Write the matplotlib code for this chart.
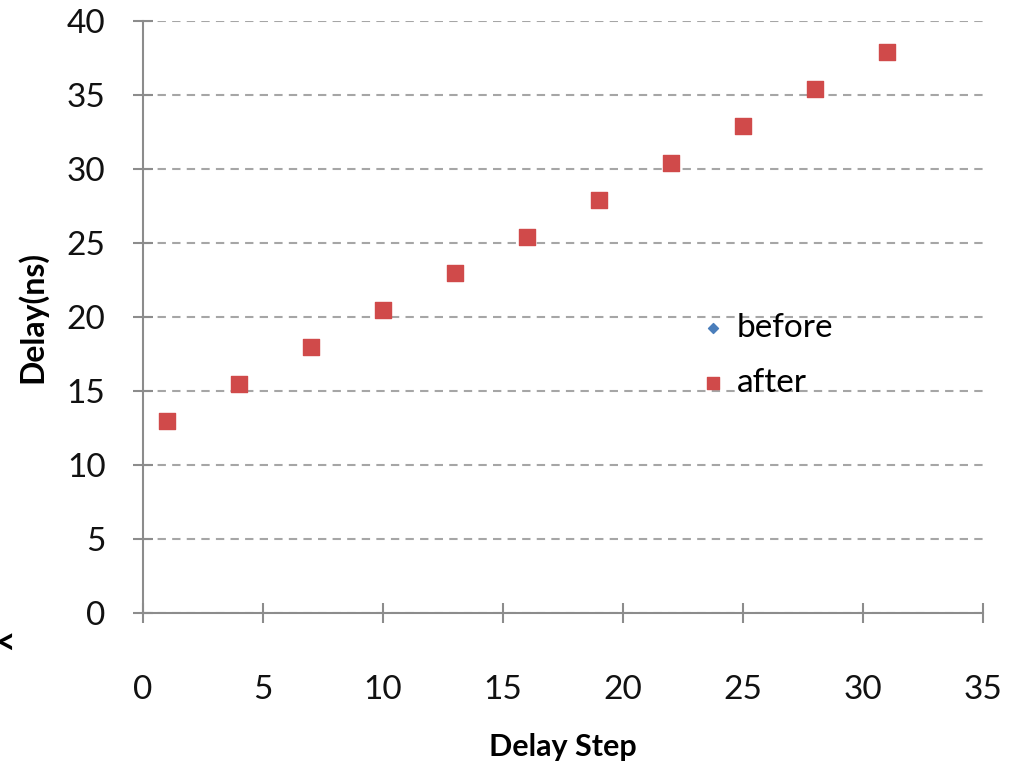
import matplotlib.pyplot as plt

plt.rcParams['font.family'] = ['Lato', 'DejaVu Sans']

steps = [1, 4, 7, 10, 13, 16, 19, 22, 25, 28, 31]
before = [13.0, 15.5, 18.0, 20.5, 23.0, 25.4, 27.9, 30.4, 32.9, 35.4, 37.9]
after = [13.0, 15.5, 18.0, 20.5, 23.0, 25.4, 27.9, 30.4, 32.9, 35.4, 37.9]

fig = plt.figure(figsize=(10.1, 7.69), dpi=100)
ax = fig.add_axes([0.1416, 0.2029, 0.8314, 0.7698])

ax.scatter(steps, before, marker='D', s=40, color='#4a7ebb', label='before', zorder=3)
ax.scatter(steps, after, marker='s', s=130, color='#d04a4a', label='after', zorder=4)

ax.set_xlim(0, 35)
ax.set_ylim(0, 40)
ax.set_xticks(range(0, 36, 5))
ax.set_yticks(range(0, 41, 5))
ax.grid(axis='y', color='#a6a6a6', linestyle=(0, (4, 3)), linewidth=1.5)
ax.set_axisbelow(True)

for s in ['top', 'right']:
    ax.spines[s].set_visible(False)
for s in ['left', 'bottom']:
    ax.spines[s].set_color('#8c8c8c')
    ax.spines[s].set_linewidth(1.5)

ax.tick_params(direction='inout', length=14, width=1.5, color='#8c8c8c',
               labelsize=24, labelcolor='#111111')
ax.tick_params(axis='y', pad=20)
ax.tick_params(axis='x', pad=38)

ax.set_xlabel('Delay Step', fontsize=22, fontweight='bold', labelpad=20)
ax.set_ylabel('Delay(ns)', fontsize=23, fontweight='bold', labelpad=14)

ax.legend(loc='center left', bbox_to_anchor=(0.667, 0.435), frameon=False,
          fontsize=24, handlelength=0.6, handletextpad=0.4, labelspacing=0.75,
          markerscale=0.8, borderaxespad=0, borderpad=0)

fig.text(-0.006, 0.15, '<', fontsize=26, fontweight='bold')

fig.savefig('out.png', dpi=100)
